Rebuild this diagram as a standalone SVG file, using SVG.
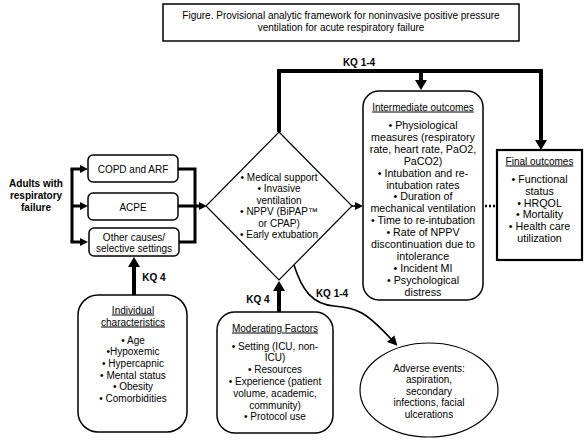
<svg xmlns="http://www.w3.org/2000/svg" width="585" height="442" viewBox="0 0 585 442">
<style>
text{font-family:"Liberation Sans",Arial,sans-serif;font-size:10px;fill:#000;text-anchor:middle}
.b{font-weight:bold}
.u{text-decoration:underline}
.m{font-size:10.7px}
.box{fill:#fff;stroke:#000;stroke-width:1.5}
.thick{fill:none;stroke:#000;stroke-width:4}
.mid{fill:none;stroke:#000;stroke-width:3}
.thin{fill:none;stroke:#000;stroke-width:1.6}
</style>
<defs>
<marker id="ab" viewBox="0 0 10 12" markerUnits="userSpaceOnUse" markerWidth="10" markerHeight="12" refX="2" refY="6" orient="auto"><path d="M0,0L10,6L0,12z"/></marker>
<marker id="as" viewBox="0 0 8 8" markerUnits="userSpaceOnUse" markerWidth="8" markerHeight="8" refX="2" refY="4" orient="auto"><path d="M0,0L8,4L0,8z"/></marker>
<marker id="ac" viewBox="0 0 10 10" markerUnits="userSpaceOnUse" markerWidth="10" markerHeight="10" refX="2" refY="5" orient="auto"><path d="M0,0L10,5L0,10z"/></marker>
</defs>
<rect width="585" height="442" fill="#fff"/>

<g id="title">
<rect x="163" y="4" width="356" height="37" fill="#fff" stroke="#000" stroke-width="1.5"/>
<text x="341" y="18.5">Figure. Provisional analytic framework for noninvasive positive pressure</text>
<text x="341" y="31">ventilation for acute respiratory failure</text>
</g>

<g id="connectors">
<path class="thick" d="M279,132V71H541V142" marker-end="url(#ab)"/>
<path class="thick" d="M421,71V82" marker-end="url(#ab)"/>
<path class="mid" d="M72,169V242"/>
<path class="mid" d="M70.5,169H82" marker-end="url(#as)"/>
<path class="mid" d="M72,206H82" marker-end="url(#as)"/>
<path class="mid" d="M70.5,242H82" marker-end="url(#as)"/>
<path class="mid" d="M178,169H195V242H179"/>
<path class="mid" d="M178,206H201" marker-end="url(#as)"/>
<path class="thin" d="M352,206H357" marker-end="url(#as)"/>
<path d="M485,206H496" fill="none" stroke="#000" stroke-width="2.5" stroke-dasharray="2,2"/>
<path class="thick" d="M134,295V265" marker-end="url(#ab)"/>
<path class="thick" d="M279,312V289" marker-end="url(#ab)"/>
<path class="thin" d="M294,265C302,290 312,304 334,306C358,308 366,312 392,340" marker-end="url(#ac)"/>
<text class="b" x="359" y="65.5">KQ 1-4</text>
<text class="b" x="154" y="281">KQ 4</text>
<text class="b" x="258" y="303">KQ 4</text>
<text class="b" x="332" y="297">KQ 1-4</text>
</g>

<g id="population">
<text class="b" x="36" y="186.5">Adults with</text>
<text class="b" x="36" y="198.5">respiratory</text>
<text class="b" x="36" y="210.5">failure</text>
</g>

<g id="copd">
<rect class="box" x="88" y="155" width="90" height="27" rx="5"/>
<text x="133" y="172.5">COPD and ARF</text>
</g>

<g id="acpe">
<rect class="box" x="88" y="193" width="90" height="27" rx="5"/>
<text x="133" y="210.5">ACPE</text>
</g>

<g id="other">
<rect class="box" x="89" y="228" width="90" height="28" rx="5"/>
<text x="134" y="240.5">Other causes/</text>
<text x="134" y="251.5">selective settings</text>
</g>

<g id="interventions">
<polygon points="279,132 352,206 279,280 206,206" fill="#fff" stroke="#000" stroke-width="1.2"/>
<text x="279" y="181">• Medical support</text>
<text x="279" y="192.4">• Invasive</text>
<text x="279" y="203.8">ventilation</text>
<text x="279" y="215.2">• NPPV (BiPAP™</text>
<text x="279" y="226.6">or CPAP)</text>
<text x="279" y="238">• Early extubation</text>
</g>

<g id="intermediate">
<rect class="box" x="363" y="91" width="120" height="209" rx="16"/>
<text class="u" x="423" y="110.5">Intermediate outcomes</text>
<text class="m" x="423" y="129">• Physiological</text>
<text class="m" x="423" y="140.9">measures (respiratory</text>
<text class="m" x="423" y="152.8">rate, heart rate, PaO2,</text>
<text class="m" x="423" y="164.7">PaCO2)</text>
<text class="m" x="423" y="176.6">• Intubation and re-</text>
<text class="m" x="423" y="188.5">intubation rates</text>
<text class="m" x="423" y="200.4">• Duration of</text>
<text class="m" x="423" y="212.3">mechanical ventilation</text>
<text class="m" x="423" y="224.2">• Time to re-intubation</text>
<text class="m" x="423" y="236.1">• Rate of NPPV</text>
<text class="m" x="423" y="248">discontinuation due to</text>
<text class="m" x="423" y="259.9">intolerance</text>
<text class="m" x="423" y="271.8">• Incident MI</text>
<text class="m" x="423" y="283.7">• Psychological</text>
<text class="m" x="423" y="295.6">distress</text>
</g>

<g id="final">
<rect x="497" y="150" width="85" height="110" fill="#fff" stroke="#000" stroke-width="2.2"/>
<text class="u" x="539.5" y="164.5">Final outcomes</text>
<text class="m" x="539.5" y="183">• Functional</text>
<text class="m" x="539.5" y="194.8">status</text>
<text class="m" x="539.5" y="206.6">• HRQOL</text>
<text class="m" x="539.5" y="218.4">• Mortality</text>
<text class="m" x="539.5" y="230.2">• Health care</text>
<text class="m" x="539.5" y="242">utilization</text>
</g>

<g id="individual">
<rect class="box" x="78" y="295" width="109" height="137" rx="20"/>
<text class="u" x="133" y="313.5">Individual</text>
<text class="u" x="133" y="325.5">characteristics</text>
<text x="133" y="343.5">• Age</text>
<text x="133" y="355.2">•Hypoxemic</text>
<text x="133" y="366.9">• Hypercapnic</text>
<text x="133" y="378.6">• Mental status</text>
<text x="133" y="390.3">• Obesity</text>
<text x="133" y="402">• Comorbidities</text>
</g>

<g id="moderating">
<rect class="box" x="217" y="312" width="116" height="121" rx="18"/>
<text class="u" x="275" y="331.5">Moderating Factors</text>
<text x="275" y="349.5">• Setting (ICU, non-</text>
<text x="275" y="361.3">ICU)</text>
<text x="275" y="373.1">• Resources</text>
<text x="275" y="384.9">• Experience (patient</text>
<text x="275" y="396.7">volume, academic,</text>
<text x="275" y="408.5">community)</text>
<text x="275" y="420.3">• Protocol use</text>
</g>

<g id="adverse">
<ellipse cx="429" cy="390" rx="69" ry="47" fill="#fff" stroke="#000" stroke-width="1.2"/>
<text x="429" y="371.5">Adverse events:</text>
<text x="429" y="383">aspiration,</text>
<text x="429" y="394.5">secondary</text>
<text x="429" y="406">infections, facial</text>
<text x="429" y="417.5">ulcerations</text>
</g>
</svg>
